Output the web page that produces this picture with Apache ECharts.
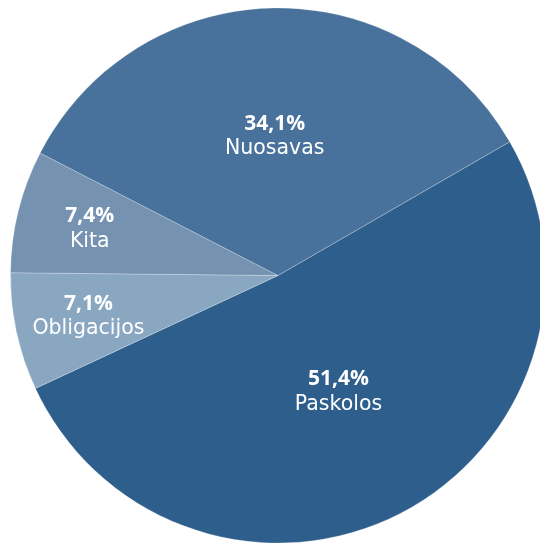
<!DOCTYPE html>
<html>
<head>
<meta charset="utf-8">
<script src="https://cdn.jsdelivr.net/npm/echarts@6/dist/echarts.min.js"></script>
<style>
  html, body { margin: 0; padding: 0; background: #ffffff; }
  #chart { width: 540px; height: 544px; }
</style>
</head>
<body>
<div id="chart"></div>
<script>
// Funding structure (%), drawn clockwise from the upper right
const categories = ['Paskolos', 'Obligacijos', 'Kita', 'Nuosavas'];
const shares = [51.4, 7.1, 7.4, 34.1];
const sliceColors = ['#2E5F8C', '#8AA7C2', '#7593B1', '#48719B'];

const CX = 278, CY = 275.5, R = 267.5;

const chart = echarts.init(document.getElementById('chart'), null, { renderer: 'canvas' });

const fmt = v => v.toFixed(1).replace('.', ',');

chart.setOption({
  animation: false,
  series: [{
    type: 'pie',
    center: [CX, CY],
    radius: [0, R],
    startAngle: 30,
    clockwise: true,
    avoidLabelOverlap: false,
    itemStyle: {
      borderColor: 'rgba(255,255,255,0.3)',
      borderWidth: 0.8
    },
    label: {
      show: true,
      position: 'inside',
      color: '#ffffff',
      formatter: p => '{p|' + fmt(p.value) + '%}\n{n|' + p.name + '}',
      rich: {
        p: { fontFamily: 'Open Sans', fontWeight: 'bold', fontSize: 21, color: '#ffffff', lineHeight: 25, align: 'center' },
        n: { fontFamily: 'DejaVu Sans', fontWeight: 'normal', fontSize: 20.5, color: '#ffffff', lineHeight: 25, align: 'center' }
      }
    },
    labelLine: { show: false },
    // narrow slices carry their labels further out along the slice's mid-line
    labelLayout: function (params) {
      const r = params.labelRect;
      const lx = r.x + r.width / 2, ly = r.y + r.height / 2;
      const dx = lx - CX, dy = ly - CY;
      const d = Math.sqrt(dx * dx + dy * dy) || 1;
      const small = shares[params.dataIndex] < 10;
      const target = small ? R * 0.725 : (params.dataIndex === 0 ? R * 0.49 : R * 0.52);
      return { x: CX + dx / d * target, y: CY + dy / d * target };
    },
    data: categories.map((name, i) => ({
      name: name,
      value: shares[i],
      itemStyle: { color: sliceColors[i] }
    }))
  }]
});
</script>
</body>
</html>
